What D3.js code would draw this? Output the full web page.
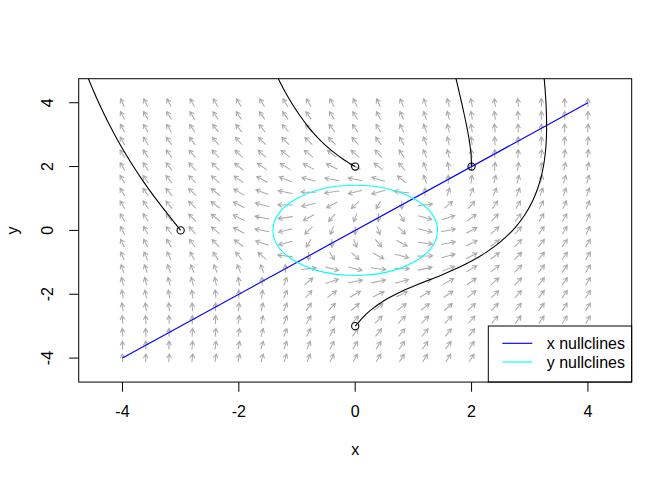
<!DOCTYPE html>
<html><head><meta charset="utf-8">
<script src="https://cdn.jsdelivr.net/npm/d3@7"></script>
<style>
body{margin:0;background:#fff}
svg{display:block}
text{font-family:"Liberation Sans",Arial,Helvetica,sans-serif;font-size:16px;fill:#000}
</style>
</head><body>
<svg id="chart" width="672" height="480"></svg>
<script>
// ---------- data ----------
const gridX = [-4,-3.6,-3.2,-2.8,-2.4,-2,-1.6,-1.2,-0.8,-0.4,0,0.4,0.8,1.2,1.6,2,2.4,2.8,3.2,3.6,4];
const gridY = [-4,-3.6,-3.2,-2.8,-2.4,-2,-1.6,-1.2,-0.8,-0.4,0,0.4,0.8,1.2,1.6,2,2.4,2.8,3.2,3.6,4];
// horizontal component of the flow at each grid point (rows = gridY, cols = gridX)
const fieldDX = [
[0,0.4,0.8,1.2,1.6,2,2.4,2.8,3.2,3.6,4,4.4,4.8,5.2,5.6,6,6.4,6.8,7.2,7.6,8],
[-0.4,0,0.4,0.8,1.2,1.6,2,2.4,2.8,3.2,3.6,4,4.4,4.8,5.2,5.6,6,6.4,6.8,7.2,7.6],
[-0.8,-0.4,0,0.4,0.8,1.2,1.6,2,2.4,2.8,3.2,3.6,4,4.4,4.8,5.2,5.6,6,6.4,6.8,7.2],
[-1.2,-0.8,-0.4,0,0.4,0.8,1.2,1.6,2,2.4,2.8,3.2,3.6,4,4.4,4.8,5.2,5.6,6,6.4,6.8],
[-1.6,-1.2,-0.8,-0.4,0,0.4,0.8,1.2,1.6,2,2.4,2.8,3.2,3.6,4,4.4,4.8,5.2,5.6,6,6.4],
[-2,-1.6,-1.2,-0.8,-0.4,0,0.4,0.8,1.2,1.6,2,2.4,2.8,3.2,3.6,4,4.4,4.8,5.2,5.6,6],
[-2.4,-2,-1.6,-1.2,-0.8,-0.4,0,0.4,0.8,1.2,1.6,2,2.4,2.8,3.2,3.6,4,4.4,4.8,5.2,5.6],
[-2.8,-2.4,-2,-1.6,-1.2,-0.8,-0.4,0,0.4,0.8,1.2,1.6,2,2.4,2.8,3.2,3.6,4,4.4,4.8,5.2],
[-3.2,-2.8,-2.4,-2,-1.6,-1.2,-0.8,-0.4,0,0.4,0.8,1.2,1.6,2,2.4,2.8,3.2,3.6,4,4.4,4.8],
[-3.6,-3.2,-2.8,-2.4,-2,-1.6,-1.2,-0.8,-0.4,0,0.4,0.8,1.2,1.6,2,2.4,2.8,3.2,3.6,4,4.4],
[-4,-3.6,-3.2,-2.8,-2.4,-2,-1.6,-1.2,-0.8,-0.4,0,0.4,0.8,1.2,1.6,2,2.4,2.8,3.2,3.6,4],
[-4.4,-4,-3.6,-3.2,-2.8,-2.4,-2,-1.6,-1.2,-0.8,-0.4,0,0.4,0.8,1.2,1.6,2,2.4,2.8,3.2,3.6],
[-4.8,-4.4,-4,-3.6,-3.2,-2.8,-2.4,-2,-1.6,-1.2,-0.8,-0.4,0,0.4,0.8,1.2,1.6,2,2.4,2.8,3.2],
[-5.2,-4.8,-4.4,-4,-3.6,-3.2,-2.8,-2.4,-2,-1.6,-1.2,-0.8,-0.4,0,0.4,0.8,1.2,1.6,2,2.4,2.8],
[-5.6,-5.2,-4.8,-4.4,-4,-3.6,-3.2,-2.8,-2.4,-2,-1.6,-1.2,-0.8,-0.4,0,0.4,0.8,1.2,1.6,2,2.4],
[-6,-5.6,-5.2,-4.8,-4.4,-4,-3.6,-3.2,-2.8,-2.4,-2,-1.6,-1.2,-0.8,-0.4,0,0.4,0.8,1.2,1.6,2],
[-6.4,-6,-5.6,-5.2,-4.8,-4.4,-4,-3.6,-3.2,-2.8,-2.4,-2,-1.6,-1.2,-0.8,-0.4,0,0.4,0.8,1.2,1.6],
[-6.8,-6.4,-6,-5.6,-5.2,-4.8,-4.4,-4,-3.6,-3.2,-2.8,-2.4,-2,-1.6,-1.2,-0.8,-0.4,0,0.4,0.8,1.2],
[-7.2,-6.8,-6.4,-6,-5.6,-5.2,-4.8,-4.4,-4,-3.6,-3.2,-2.8,-2.4,-2,-1.6,-1.2,-0.8,-0.4,0,0.4,0.8],
[-7.6,-7.2,-6.8,-6.4,-6,-5.6,-5.2,-4.8,-4.4,-4,-3.6,-3.2,-2.8,-2.4,-2,-1.6,-1.2,-0.8,-0.4,0,0.4],
[-8,-7.6,-7.2,-6.8,-6.4,-6,-5.6,-5.2,-4.8,-4.4,-4,-3.6,-3.2,-2.8,-2.4,-2,-1.6,-1.2,-0.8,-0.4,0]
];
// vertical component of the flow at each grid point (rows = gridY, cols = gridX)
const fieldDY = [
[30,26.96,24.24,21.84,19.76,18,16.56,15.44,14.64,14.16,14,14.16,14.64,15.44,16.56,18,19.76,21.84,24.24,26.96,30],
[26.96,23.92,21.2,18.8,16.72,14.96,13.52,12.4,11.6,11.12,10.96,11.12,11.6,12.4,13.52,14.96,16.72,18.8,21.2,23.92,26.96],
[24.24,21.2,18.48,16.08,14,12.24,10.8,9.68,8.88,8.4,8.24,8.4,8.88,9.68,10.8,12.24,14,16.08,18.48,21.2,24.24],
[21.84,18.8,16.08,13.68,11.6,9.84,8.4,7.28,6.48,6,5.84,6,6.48,7.28,8.4,9.84,11.6,13.68,16.08,18.8,21.84],
[19.76,16.72,14,11.6,9.52,7.76,6.32,5.2,4.4,3.92,3.76,3.92,4.4,5.2,6.32,7.76,9.52,11.6,14,16.72,19.76],
[18,14.96,12.24,9.84,7.76,6,4.56,3.44,2.64,2.16,2,2.16,2.64,3.44,4.56,6,7.76,9.84,12.24,14.96,18],
[16.56,13.52,10.8,8.4,6.32,4.56,3.12,2,1.2,0.72,0.56,0.72,1.2,2,3.12,4.56,6.32,8.4,10.8,13.52,16.56],
[15.44,12.4,9.68,7.28,5.2,3.44,2,0.88,0.08,-0.4,-0.56,-0.4,0.08,0.88,2,3.44,5.2,7.28,9.68,12.4,15.44],
[14.64,11.6,8.88,6.48,4.4,2.64,1.2,0.08,-0.72,-1.2,-1.36,-1.2,-0.72,0.08,1.2,2.64,4.4,6.48,8.88,11.6,14.64],
[14.16,11.12,8.4,6,3.92,2.16,0.72,-0.4,-1.2,-1.68,-1.84,-1.68,-1.2,-0.4,0.72,2.16,3.92,6,8.4,11.12,14.16],
[14,10.96,8.24,5.84,3.76,2,0.56,-0.56,-1.36,-1.84,-2,-1.84,-1.36,-0.56,0.56,2,3.76,5.84,8.24,10.96,14],
[14.16,11.12,8.4,6,3.92,2.16,0.72,-0.4,-1.2,-1.68,-1.84,-1.68,-1.2,-0.4,0.72,2.16,3.92,6,8.4,11.12,14.16],
[14.64,11.6,8.88,6.48,4.4,2.64,1.2,0.08,-0.72,-1.2,-1.36,-1.2,-0.72,0.08,1.2,2.64,4.4,6.48,8.88,11.6,14.64],
[15.44,12.4,9.68,7.28,5.2,3.44,2,0.88,0.08,-0.4,-0.56,-0.4,0.08,0.88,2,3.44,5.2,7.28,9.68,12.4,15.44],
[16.56,13.52,10.8,8.4,6.32,4.56,3.12,2,1.2,0.72,0.56,0.72,1.2,2,3.12,4.56,6.32,8.4,10.8,13.52,16.56],
[18,14.96,12.24,9.84,7.76,6,4.56,3.44,2.64,2.16,2,2.16,2.64,3.44,4.56,6,7.76,9.84,12.24,14.96,18],
[19.76,16.72,14,11.6,9.52,7.76,6.32,5.2,4.4,3.92,3.76,3.92,4.4,5.2,6.32,7.76,9.52,11.6,14,16.72,19.76],
[21.84,18.8,16.08,13.68,11.6,9.84,8.4,7.28,6.48,6,5.84,6,6.48,7.28,8.4,9.84,11.6,13.68,16.08,18.8,21.84],
[24.24,21.2,18.48,16.08,14,12.24,10.8,9.68,8.88,8.4,8.24,8.4,8.88,9.68,10.8,12.24,14,16.08,18.48,21.2,24.24],
[26.96,23.92,21.2,18.8,16.72,14.96,13.52,12.4,11.6,11.12,10.96,11.12,11.6,12.4,13.52,14.96,16.72,18.8,21.2,23.92,26.96],
[30,26.96,24.24,21.84,19.76,18,16.56,15.44,14.64,14.16,14,14.16,14.64,15.44,16.56,18,19.76,21.84,24.24,26.96,30]
];
// nullclines
const xNullcline = [[-4,-4],[4,4]];
const yNullcline = {cx: 0, cy: 0, r: 1.4142};
// trajectories (x, y)
const traj1 = [[-3,0],[-3.174,0.4],[-3.346,0.8],[-3.511,1.2],[-3.666,1.6],[-3.812,2.0],[-3.948,2.4],[-4.075,2.8],[-4.193,3.2],[-4.304,3.6],[-4.408,4.0],[-4.505,4.4],[-4.597,4.8],[-4.686,5.2]];
const traj2 = [[0,2],[-0.1,2.105],[-0.2,2.22],[-0.4,2.49],[-0.6,2.82],[-0.8,3.23],[-0.964,3.63],[-1.106,4.03],[-1.231,4.43],[-1.343,4.83],[-1.45,5.23]];
const traj3 = [[2,2],[1.99,2.4],[1.962,2.8],[1.923,3.2],[1.878,3.6],[1.829,4.0],[1.778,4.4],[1.727,4.8],[1.676,5.2]];
const traj4 = [[0,-3],[0.125,-2.737],[0.25,-2.52],[0.5,-2.195],[0.75,-1.952],[1.0,-1.752],[1.25,-1.57],[1.5,-1.387],[1.75,-1.188],[2.0,-0.961],[2.25,-0.689],[2.5,-0.352],[2.75,0.089],[2.916,0.489],[3.04,0.889],[3.132,1.289],[3.198,1.689],[3.243,2.089],[3.271,2.489],[3.286,2.889],[3.29,3.289],[3.286,3.689],[3.276,4.089],[3.261,4.489],[3.242,4.889],[3.22,5.289]];
const trajectories = [traj1, traj2, traj3, traj4];
const startPoints = [[-3,0],[0,2],[2,2],[0,-3]];
const xTicks = [-4,-2,0,2,4];
const yTicks = [-4,-2,0,2,4];
const legendLabels = ["x nullclines","y nullclines"];
const legendColors = ["#0000FF","#00FFFF"];
const xLabel = "x", yLabel = "y";

// ---------- layout ----------
const W = 672, H = 480;
const plot = {l: 78.72, r: 631.68, t: 78.72, b: 382.08};
const x = d3.scaleLinear().domain([-4.752, 4.752]).range([plot.l, plot.r]);
const y = d3.scaleLinear().domain([-4.752, 4.752]).range([plot.b, plot.t]);
const svg = d3.select("#chart");

svg.append("defs").append("clipPath").attr("id","clip")
  .append("rect").attr("x",plot.l).attr("y",plot.t)
  .attr("width",plot.r-plot.l).attr("height",plot.b-plot.t);

const g = svg.append("g").attr("clip-path","url(#clip)");

// flow field arrows
const arrowLen = 0.26, headLen = 4.8, headAng = Math.PI/6;
const arrows = [];
gridY.forEach((yv, j) => gridX.forEach((xv, i) => {
  arrows.push({x: xv, y: yv, dx: fieldDX[j][i], dy: fieldDY[j][i]});
}));
g.append("g").selectAll("path").data(arrows).join("path")
  .attr("fill","none").attr("stroke","#ABABAB").attr("stroke-width",1.05)
  .attr("d", d => {
    const n = Math.hypot(d.dx, d.dy);
    if (!n) return null;
    const ux = d.dx/n, uy = d.dy/n;
    const x0 = x(d.x - ux*arrowLen/2), y0 = y(d.y - uy*arrowLen/2);
    const x1 = x(d.x + ux*arrowLen/2), y1 = y(d.y + uy*arrowLen/2);
    const a = Math.atan2(y1-y0, x1-x0);
    const hx1 = x1 - headLen*Math.cos(a - headAng), hy1 = y1 - headLen*Math.sin(a - headAng);
    const hx2 = x1 - headLen*Math.cos(a + headAng), hy2 = y1 - headLen*Math.sin(a + headAng);
    return `M${x0},${y0}L${x1},${y1}M${hx1},${hy1}L${x1},${y1}L${hx2},${hy2}`;
  });

// nullclines
g.append("path").datum(xNullcline)
  .attr("d", d3.line().x(d=>x(d[0])).y(d=>y(d[1])))
  .attr("fill","none").attr("stroke","#0000FF").attr("stroke-width",1.15);
g.append("ellipse")
  .attr("cx", x(yNullcline.cx)).attr("cy", y(yNullcline.cy))
  .attr("rx", x(yNullcline.r) - x(0)).attr("ry", y(0) - y(yNullcline.r))
  .attr("fill","none").attr("stroke","#00FFFF").attr("stroke-width",1.15);

// trajectories
const line = d3.line().x(d=>x(d[0])).y(d=>y(d[1])).curve(d3.curveCatmullRom);
g.append("g").selectAll("path").data(trajectories).join("path")
  .attr("d", line).attr("fill","none").attr("stroke","#000").attr("stroke-width",1.1);
g.append("g").selectAll("circle").data(startPoints).join("circle")
  .attr("cx", d=>x(d[0])).attr("cy", d=>y(d[1])).attr("r",3.6)
  .attr("fill","none").attr("stroke","#000").attr("stroke-width",1.1);

// legend (bottom right, white background)
const lg = svg.append("g");
const lgBox = {l: 488.3, r: plot.r, t: 326, b: plot.b};
lg.append("rect").attr("x",lgBox.l).attr("y",lgBox.t)
  .attr("width",lgBox.r-lgBox.l).attr("height",lgBox.b-lgBox.t)
  .attr("fill","#fff").attr("stroke","#000").attr("stroke-width",1);
legendLabels.forEach((lab, k) => {
  const ly = 343.3 + k*18.7;
  lg.append("line").attr("x1",502.3).attr("x2",532.3).attr("y1",ly).attr("y2",ly)
    .attr("stroke",legendColors[k]).attr("stroke-width",1.15);
  lg.append("text").attr("x",546.7).attr("y",ly+5.6).text(lab);
});

// box
svg.append("rect").attr("x",plot.l).attr("y",plot.t)
  .attr("width",plot.r-plot.l).attr("height",plot.b-plot.t)
  .attr("fill","none").attr("stroke","#000").attr("stroke-width",1);

// axes
const tickLen = 9.6;
const ax = svg.append("g");
ax.selectAll(".xt").data(xTicks).join("line").attr("class","xt")
  .attr("x1",d=>x(d)).attr("x2",d=>x(d)).attr("y1",plot.b).attr("y2",plot.b+tickLen)
  .attr("stroke","#000");
ax.selectAll(".xl").data(xTicks).join("text").attr("class","xl")
  .attr("x",d=>x(d)).attr("y",417).attr("text-anchor","middle").text(d=>d);
ax.selectAll(".yt").data(yTicks).join("line").attr("class","yt")
  .attr("y1",d=>y(d)).attr("y2",d=>y(d)).attr("x1",plot.l-tickLen).attr("x2",plot.l)
  .attr("stroke","#000");
ax.selectAll(".yl").data(yTicks).join("text").attr("class","yl")
  .attr("transform",d=>`translate(52.7,${y(d)}) rotate(-90)`)
  .attr("text-anchor","middle").text(d=>d);
svg.append("text").attr("x",(plot.l+plot.r)/2).attr("y",455).attr("text-anchor","middle").text(xLabel);
svg.append("text").attr("transform",`translate(18,${(plot.t+plot.b)/2}) rotate(-90)`)
  .attr("text-anchor","middle").text(yLabel);
</script>
</body></html>
